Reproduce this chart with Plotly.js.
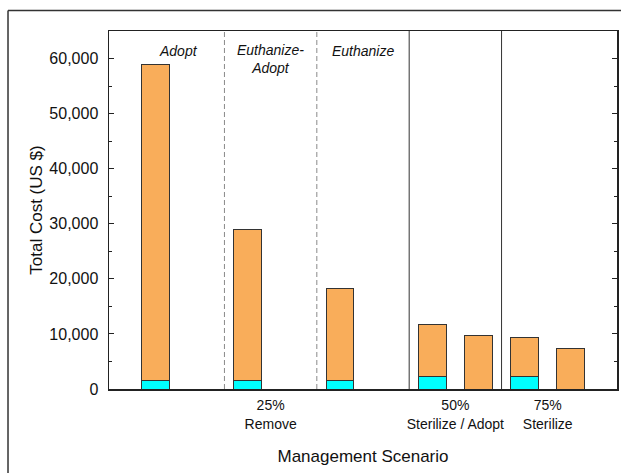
<!DOCTYPE html>
<html>
<head>
<meta charset="utf-8">
<script src="https://cdn.plot.ly/plotly-3.0.1.min.js"></script>
<style>html,body{margin:0;padding:0;background:#fff;}#chart{width:621px;height:473px;}</style>
</head>
<body>
<div id="chart"></div>
<script>
// Bar positions (data units) and scenario labels
const barX = [1, 3, 5, 7, 8, 9, 10];
const barNames = ["Adopt", "Euthanize-Adopt", "Euthanize", "50% Sterilize / Adopt (a)", "50% Sterilize / Adopt (b)", "75% Sterilize (a)", "75% Sterilize (b)"];
// Total cost and the cyan (lower) component, US $
const totalCost = [58900, 28900, 18200, 11800, 9800, 9400, 7400];
const lowerCost = [1500, 1500, 1500, 2200, 0, 2200, 0];
// Group tick labels along x
const groupTickVals = [3.5, 7.5, 9.5];
const groupTickText = ["25%<br>Remove", "50%<br>Sterilize / Adopt", "75%<br>Sterilize"];
// Strategy labels at top
const strategyX = [1.5, 3.5, 5.5];
const strategyText = ["Adopt", "Euthanize-<br>Adopt", "Euthanize"];
// Separators
const dashedSep = [2.5, 4.5];
const solidSep = [6.5, 8.5];

const upperCost = totalCost.map((t, i) => t - lowerCost[i]);

const font = "Liberation Sans, Arial, sans-serif";

const traces = [
  {
    type: "bar", x: barX, y: lowerCost, text: barNames, hoverinfo: "text+y",
    textposition: "none", width: 0.6,
    marker: {color: "#00FFFF", line: {color: "#333333", width: 1}}
  },
  {
    type: "bar", x: barX, y: upperCost, text: barNames, hoverinfo: "text+y",
    textposition: "none", width: 0.6,
    marker: {color: "#F9AD5A", line: {color: "#333333", width: 1}}
  }
];

const shapes = [];
dashedSep.forEach(v => shapes.push({type: "line", xref: "x", yref: "paper", x0: v, x1: v, y0: 0, y1: 1,
  line: {color: "#8a8a8a", width: 1, dash: "5px,3px"}}));
solidSep.forEach(v => shapes.push({type: "line", xref: "x", yref: "paper", x0: v, x1: v, y0: 0, y1: 1,
  line: {color: "#333333", width: 1}}));
// outer frame (left and top)
shapes.push({type: "line", xref: "paper", yref: "paper", x0: -0.1988, x1: -0.1988, y0: -0.3, y1: 1.0573,
  line: {color: "#333333", width: 1.5}});
shapes.push({type: "line", xref: "paper", yref: "paper", x0: -0.1988, x1: 1.05, y0: 1.0573, y1: 1.0573,
  line: {color: "#333333", width: 1.5}});

const annotations = strategyText.map((t, i) => ({
  x: strategyX[i], xref: "x", yref: "paper", y: i === 1 ? 0.922 : 0.945,
  text: t, showarrow: false, xanchor: "center", yanchor: "middle",
  font: {family: font, size: 14, style: "italic", color: "#111"}
}));

const layout = {
  width: 621, height: 473,
  margin: {l: 109, r: 4, t: 31, b: 84},
  paper_bgcolor: "#fff", plot_bgcolor: "#fff",
  barmode: "stack", showlegend: false,
  font: {family: font, color: "#111"},
  xaxis: {
    range: [0, 11], showgrid: false, zeroline: false,
    showline: true, linecolor: "#222", linewidth: 1.5, mirror: true,
    ticks: "", tickmode: "array", tickvals: groupTickVals, ticktext: groupTickText,
    ticklabelstandoff: 3,
    tickfont: {family: font, size: 14, color: "#111"},
    title: {text: "Management Scenario", font: {family: font, size: 17, color: "#111"}, standoff: 19}
  },
  yaxis: {
    range: [0, 65000], showgrid: false, zeroline: false,
    showline: true, linecolor: "#222", linewidth: 1.5, mirror: "ticks",
    ticks: "inside", ticklen: 5, tickwidth: 1, tickcolor: "#222",
    tickmode: "linear", tick0: 0, dtick: 10000, tickformat: ",",
    ticklabelstandoff: 6,
    minor: {dtick: 5000, ticks: "inside", ticklen: 3, tickcolor: "#222", showgrid: false},
    tickfont: {family: font, size: 16, color: "#111"},
    title: {text: "Total Cost (US $)", font: {family: font, size: 17, color: "#111"}, standoff: 2}
  },
  shapes: shapes,
  annotations: annotations
};

Plotly.newPlot("chart", traces, layout, {displayModeBar: false, staticPlot: true});
</script>
</body>
</html>
